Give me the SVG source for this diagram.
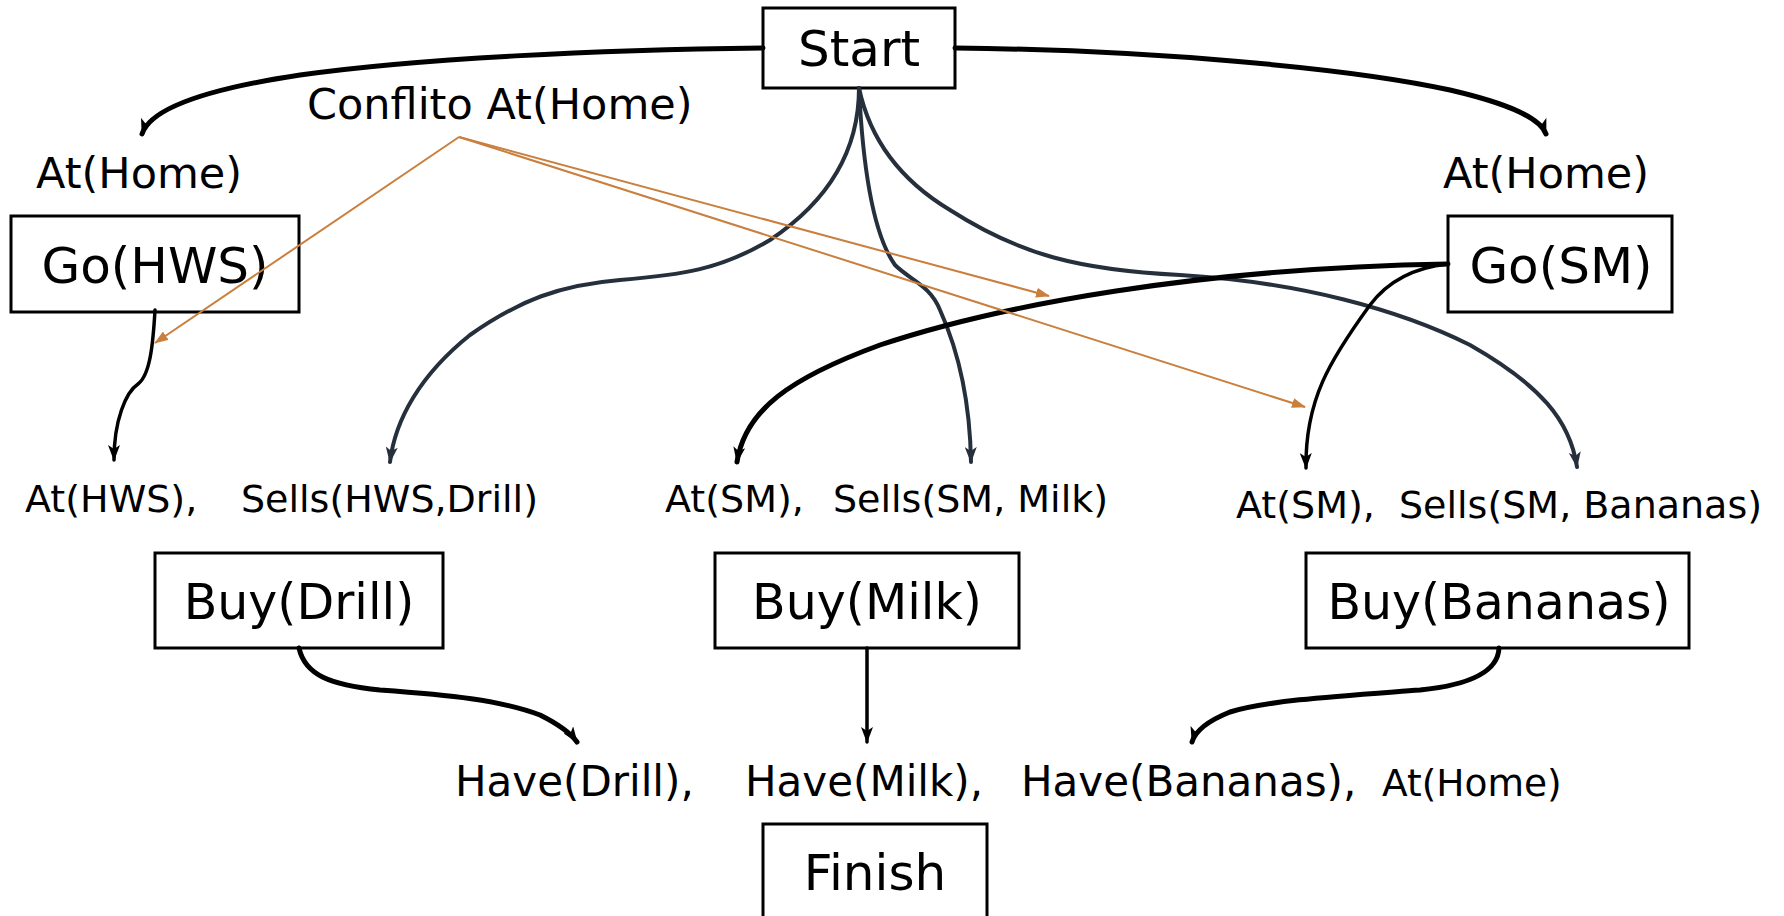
<svg xmlns="http://www.w3.org/2000/svg" width="1784" height="916" viewBox="0 0 1784 916">
<style>
text{font-family:"DejaVu Sans","Verdana",sans-serif;fill:#000}
.box{fill:#fff;stroke:#000;stroke-width:3}
.bt{font-size:49px;text-anchor:middle}
.bt2{font-size:50px;text-anchor:middle}
.lbl{font-size:43px}
.cond{font-size:38px}
.have{font-size:42px}
.k{fill:none;stroke:#000;stroke-width:3.5;stroke-linecap:round}
.kt{fill:none;stroke:#000;stroke-width:5;stroke-linecap:round}
.s{fill:none;stroke:#26303c;stroke-width:4;stroke-linecap:round}
.o{fill:none;stroke:#c97f3e;stroke-width:2}
</style>
<defs>
<marker id="ak" viewBox="0 0 16 12" refX="15" refY="6" markerWidth="16" markerHeight="12" markerUnits="userSpaceOnUse" orient="auto">
<path d="M0,0 L16,6 L0,12 L4,6 z" fill="#000"/>
</marker>
<marker id="as" viewBox="0 0 16 12" refX="15" refY="6" markerWidth="16" markerHeight="12" markerUnits="userSpaceOnUse" orient="auto">
<path d="M0,0 L16,6 L0,12 L4,6 z" fill="#26303c"/>
</marker>
<marker id="ao" viewBox="0 0 14 10" refX="13" refY="5" markerWidth="14" markerHeight="10" markerUnits="userSpaceOnUse" orient="auto">
<path d="M0,0 L14,5 L0,10 z" fill="#c97f3e"/>
</marker>
</defs>

<g id="start"><rect class="box" x="763" y="8" width="192" height="80"/><text class="bt2" x="859" y="66">Start</text></g>
<g id="go-hws"><rect class="box" x="11" y="216" width="288" height="96"/><text class="bt2" x="155" y="283">Go(HWS)</text></g>
<g id="go-sm"><rect class="box" x="1448" y="216" width="224" height="96"/><text class="bt2" x="1561" y="283">Go(SM)</text></g>
<g id="buy-drill"><rect class="box" x="155" y="553" width="288" height="95"/><text class="bt" x="299" y="619">Buy(Drill)</text></g>
<g id="buy-milk"><rect class="box" x="715" y="553" width="304" height="95"/><text class="bt" x="867" y="619">Buy(Milk)</text></g>
<g id="buy-bananas"><rect class="box" x="1306" y="553" width="383" height="95"/><text class="bt" x="1499" y="619">Buy(Bananas)</text></g>
<g id="finish"><rect class="box" x="763" y="824" width="224" height="130"/><text class="bt2" x="875" y="890">Finish</text></g>

<g id="athome-left"><text class="lbl" x="36" y="188">At(Home)</text></g>
<g id="athome-right"><text class="lbl" x="1443" y="188">At(Home)</text></g>
<g id="conflito"><text x="307" y="119" style="font-size:43px">Conflito At(Home)</text></g>
<g id="pre-drill"><text class="cond" x="25" y="512">At(HWS),</text><text class="cond" x="241" y="512">Sells(HWS,Drill)</text></g>
<g id="pre-milk"><text class="cond" x="665" y="512">At(SM),</text><text class="cond" x="833" y="512">Sells(SM, Milk)</text></g>
<g id="pre-bananas"><text class="cond" x="1236" y="518">At(SM),</text><text class="cond" x="1399" y="518">Sells(SM, Bananas)</text></g>
<g id="goal"><text class="have" x="455" y="796">Have(Drill),</text><text class="have" x="745" y="796">Have(Milk),</text><text class="have" x="1021" y="796">Have(Bananas),</text><text x="1382" y="796" style="font-size:37.5px">At(Home)</text></g>

<g id="connectors">
<path class="kt" d="M763,48 C600,50 420,58 300,75 C200,90 150,110 142,134" marker-end="url(#ak)"/>
<path class="kt" d="M955,48 C1150,50 1350,68 1450,90 C1510,104 1540,118 1546,134" marker-end="url(#ak)"/>
<path class="k" d="M155,310 C153,345 150,375 138,384 C126,392 114,420 114,460" marker-end="url(#ak)"/>
<path class="s" d="M859,88 C859,150 830,200 770,240 C720,270 680,275 620,280 C560,285 520,300 470,335 C420,375 395,420 390,462" marker-end="url(#as)"/>
<path class="s" d="M859,88 C862,150 870,230 895,265 C910,280 930,285 940,310 C958,350 970,400 971,462" marker-end="url(#as)"/>
<path class="s" d="M859,88 C870,140 900,180 950,210 C1020,255 1080,270 1180,275 C1300,282 1400,310 1470,345 C1540,385 1570,420 1577,467" marker-end="url(#as)"/>
<path class="kt" d="M1448,264 C1200,268 1000,305 880,345 C790,378 745,410 737,462" marker-end="url(#ak)"/>
<path class="k" d="M1448,264 C1410,268 1385,285 1370,305 C1330,360 1305,400 1306,468" marker-end="url(#ak)"/>
<path class="kt" d="M299,648 C305,675 330,685 380,690 C450,695 500,700 540,715 C560,725 572,735 577,742" marker-end="url(#ak)"/>
<path class="k" d="M867,648 L867,742" marker-end="url(#ak)"/>
<path class="kt" d="M1499,648 C1498,672 1470,685 1420,690 C1340,696 1270,700 1230,712 C1205,722 1195,732 1192,742" marker-end="url(#ak)"/>
<path class="o" d="M459,137 L155,343" marker-end="url(#ao)"/>
<path class="o" d="M459,137 L1049,296" marker-end="url(#ao)"/>
<path class="o" d="M459,137 L1305,407" marker-end="url(#ao)"/>
</g>
</svg>
